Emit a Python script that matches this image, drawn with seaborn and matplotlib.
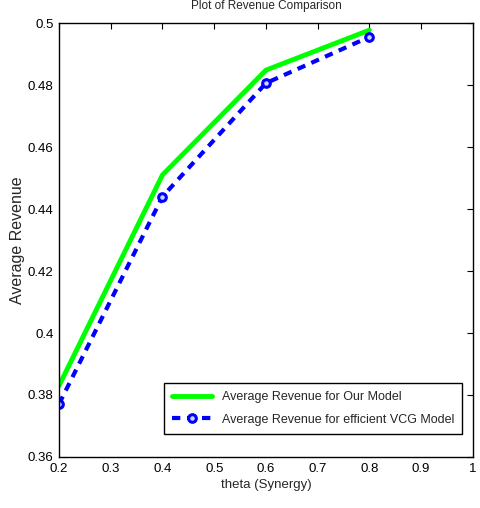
import numpy as np
import pandas as pd
import matplotlib
matplotlib.use('Agg')
import matplotlib.pyplot as plt
import seaborn as sns

# Values
theta = [0.2, 0.4, 0.6, 0.8]
our_model = [0.383, 0.451, 0.4848, 0.4977]
vcg_model = [0.3771, 0.4440, 0.4806, 0.4955]

x_ticks = [0.2, 0.3, 0.4, 0.5, 0.6, 0.7, 0.8, 0.9, 1]
y_ticks = [0.36, 0.38, 0.40, 0.42, 0.44, 0.46, 0.48, 0.50]
x_tick_labels = ['0.2', '0.3', '0.4', '0.5', '0.6', '0.7', '0.8', '0.9', '1']
y_tick_labels = ['0.36', '0.38', '0.4', '0.42', '0.44', '0.46', '0.48', '0.5']

sns.set_style("white")
plt.rcParams['font.family'] = ['Liberation Sans', 'DejaVu Sans']

df = pd.DataFrame({'theta': theta, 'ours': our_model, 'vcg': vcg_model})

fig = plt.figure(figsize=(4.8, 5.08), dpi=100)
ax = fig.add_axes([0.123, 0.1004, 0.862, 0.8543])

sns.lineplot(data=df, x='theta', y='ours', ax=ax, color='#00ff00', linewidth=3.5,
             label='Average Revenue for Our Model')
sns.lineplot(data=df, x='theta', y='vcg', ax=ax, color='#0000ff', linewidth=3,
             linestyle=(0, (2, 1.6)), marker='o', markersize=5.5, markeredgewidth=2.2,
             markeredgecolor='#0000ff', markerfacecolor='#ccd4ff',
             label='Average Revenue for efficient VCG Model')

ax.set_xlim(0.2, 1)
ax.set_ylim(0.36, 0.5)
ax.set_xticks(x_ticks)
ax.set_xticklabels(x_tick_labels)
ax.set_yticks(y_ticks)
ax.set_yticklabels(y_tick_labels)
ax.tick_params(direction='in', length=4, width=0.8, labelsize=9.5, colors='black',
               top=True, right=True, pad=4)
for s in ax.spines.values():
    s.set_color('black')
    s.set_linewidth(1)

ax.set_xlabel('theta (Synergy)', fontsize=9.5, labelpad=3)
ax.set_ylabel('Average Revenue', fontsize=11.5, labelpad=2)
ax.set_title('Plot of Revenue Comparison', fontsize=8.5, pad=10)

leg = ax.legend(loc='lower right', fontsize=9, frameon=True, fancybox=False,
                edgecolor='black', framealpha=1, borderpad=0.65, labelspacing=0.85,
                handlelength=3.2, bbox_to_anchor=(0.975, 0.053), borderaxespad=0)
leg.get_frame().set_linewidth(1)

fig.savefig('out.png', dpi=100)
